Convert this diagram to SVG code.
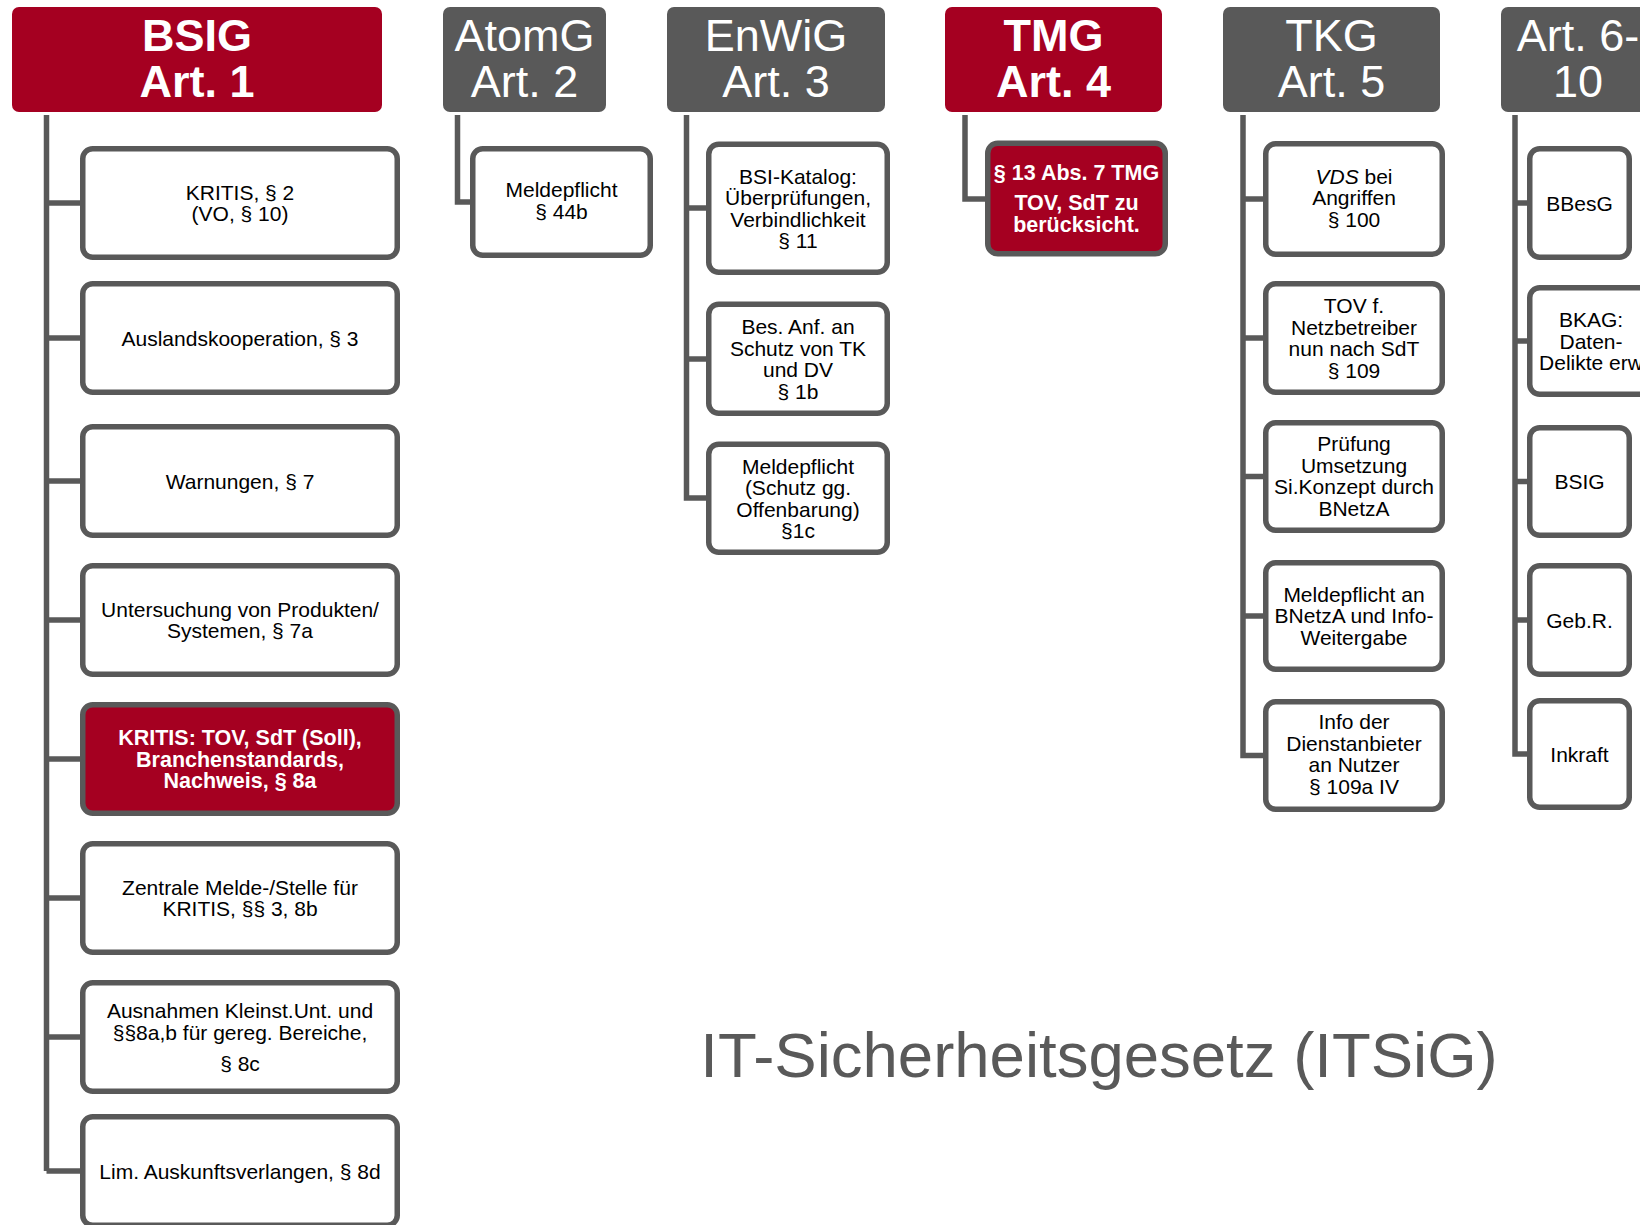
<svg xmlns="http://www.w3.org/2000/svg" width="1640" height="1225" viewBox="0 0 1640 1225">
<style>
.hr{fill:#A50021}
.hg{fill:#595959}
.box{fill:#fff;stroke:#595959;stroke-width:5.5}
.boxr{fill:#A50021;stroke:#595959;stroke-width:5.5}
.h{font-family:"Liberation Sans",Arial,sans-serif;font-size:45px;fill:#fff;text-anchor:middle}
.hb{font-weight:bold}
.t{font-family:"Liberation Sans",Arial,sans-serif;font-size:21px;fill:#000;text-anchor:middle}
.tw{font-family:"Liberation Sans",Arial,sans-serif;font-size:21.5px;font-weight:bold;fill:#fff;text-anchor:middle}
.conn{fill:none;stroke:#595959;stroke-width:5.5;stroke-linejoin:miter}
.title{font-family:"Liberation Sans",Arial,sans-serif;font-size:63.5px;fill:#595959;text-anchor:middle}
</style>
<rect width="1640" height="1225" fill="#fff"/>
<g id="connectors" class="conn">
<path d="M46.5 115V1171M46.5 203H83M46.5 338H83M46.5 481H83M46.5 620H83M46.5 759H83M46.5 898H83M46.5 1037H83M46.5 1171H83"/>
<path d="M457.5 115V202H473"/>
<path d="M686.5 115V498H709M686.5 208H709M686.5 359H709"/>
<path d="M965 115V199H988"/>
<path d="M1243 115V755.5H1266M1243 199H1266M1243 338H1266M1243 476.5H1266M1243 616H1266"/>
<path d="M1515 115V754H1530M1515 203H1530M1515 341H1530M1515 481.5H1530M1515 620H1530"/>
</g>
<g id="h-bsig"><rect class="hr" x="12" y="7" width="370" height="105" rx="7"/><text class="h hb" x="197" y="51">BSIG</text><text class="h hb" x="197" y="97">Art. 1</text></g>
<g id="h-atomg"><rect class="hg" x="443" y="7" width="163" height="105" rx="7"/><text class="h" x="524.5" y="51">AtomG</text><text class="h" x="524.5" y="97">Art. 2</text></g>
<g id="h-enwig"><rect class="hg" x="667" y="7" width="218" height="105" rx="7"/><text class="h" x="776" y="51">EnWiG</text><text class="h" x="776" y="97">Art. 3</text></g>
<g id="h-tmg"><rect class="hr" x="945" y="7" width="217" height="105" rx="7"/><text class="h hb" x="1053.5" y="51">TMG</text><text class="h hb" x="1053.5" y="97">Art. 4</text></g>
<g id="h-tkg"><rect class="hg" x="1223" y="7" width="217" height="105" rx="7"/><text class="h" x="1331.5" y="51">TKG</text><text class="h" x="1331.5" y="97">Art. 5</text></g>
<g id="h-art6"><rect class="hg" x="1501" y="7" width="160" height="105" rx="7"/><text class="h" x="1578" y="51">Art. 6-</text><text class="h" x="1578" y="97">10</text></g>

<g id="b1"><rect class="box" x="82.75" y="148.75" width="314.5" height="108.5" rx="10"/><text class="t" x="240" y="199.75">KRITIS, § 2</text><text class="t" x="240" y="221.25">(VO, § 10)</text></g>
<g id="b2"><rect class="box" x="82.75" y="283.75" width="314.5" height="108.5" rx="10"/><text class="t" x="240" y="345.5">Auslandskooperation, § 3</text></g>
<g id="b3"><rect class="box" x="82.75" y="426.75" width="314.5" height="108.5" rx="10"/><text class="t" x="240" y="488.5">Warnungen, § 7</text></g>
<g id="b4"><rect class="box" x="82.75" y="565.75" width="314.5" height="108.5" rx="10"/><text class="t" x="240" y="616.75">Untersuchung von Produkten/</text><text class="t" x="240" y="638.25">Systemen, § 7a</text></g>
<g id="b5"><rect class="boxr" x="82.75" y="704.75" width="314.5" height="108.5" rx="10"/><text class="tw" x="240" y="745">KRITIS: TOV, SdT (Soll),</text><text class="tw" x="240" y="766.5">Branchenstandards,</text><text class="tw" x="240" y="788">Nachweis, § 8a</text></g>
<g id="b6"><rect class="box" x="82.75" y="843.75" width="314.5" height="108.5" rx="10"/><text class="t" x="240" y="894.75">Zentrale Melde-/Stelle für</text><text class="t" x="240" y="916.25">KRITIS, §§ 3, 8b</text></g>
<g id="b7"><rect class="box" x="82.75" y="982.75" width="314.5" height="108.5" rx="10"/><text class="t" x="240" y="1018">Ausnahmen Kleinst.Unt. und</text><text class="t" x="240" y="1040">§§8a,b für gereg. Bereiche,</text><text class="t" x="240" y="1071">§ 8c</text></g>
<g id="b8"><rect class="box" x="82.75" y="1116.75" width="314.5" height="108.5" rx="10"/><text class="t" x="240" y="1178.5">Lim. Auskunftsverlangen, § 8d</text></g>

<g id="a1"><rect class="box" x="472.75" y="148.75" width="177.5" height="106.5" rx="10"/><text class="t" x="561.5" y="197">Meldepflicht</text><text class="t" x="561.5" y="218.5">§ 44b</text></g>

<g id="e1"><rect class="box" x="708.75" y="144.25" width="178.5" height="128" rx="10"/><text class="t" x="798" y="183.5">BSI-Katalog:</text><text class="t" x="798" y="205">Überprüfungen,</text><text class="t" x="798" y="226.5">Verbindlichkeit</text><text class="t" x="798" y="248">§ 11</text></g>
<g id="e2"><rect class="box" x="708.75" y="304.25" width="178.5" height="109" rx="10"/><text class="t" x="798" y="334.25">Bes. Anf. an</text><text class="t" x="798" y="355.75">Schutz von TK</text><text class="t" x="798" y="377.25">und DV</text><text class="t" x="798" y="398.75">§ 1b</text></g>
<g id="e3"><rect class="box" x="708.75" y="444.25" width="178.5" height="108" rx="10"/><text class="t" x="798" y="473.75">Meldepflicht</text><text class="t" x="798" y="495.25">(Schutz gg.</text><text class="t" x="798" y="516.75">Offenbarung)</text><text class="t" x="798" y="538.25">§1c</text></g>

<g id="m1"><rect class="boxr" x="987.75" y="143.25" width="177.5" height="110.5" rx="10"/><text class="tw" x="1076.5" y="180">§ 13 Abs. 7 TMG</text><text class="tw" x="1076.5" y="210">TOV, SdT zu</text><text class="tw" x="1076.5" y="231.5">berücksicht.</text></g>

<g id="k1"><rect class="box" x="1265.75" y="143.75" width="176.5" height="110.5" rx="10"/><text class="t" x="1354" y="183.5"><tspan font-style="italic">VDS</tspan> bei</text><text class="t" x="1354" y="205">Angriffen</text><text class="t" x="1354" y="226.5">§ 100</text></g>
<g id="k2"><rect class="box" x="1265.75" y="283.75" width="176.5" height="108.5" rx="10"/><text class="t" x="1354" y="313.25">TOV f.</text><text class="t" x="1354" y="334.75">Netzbetreiber</text><text class="t" x="1354" y="356.25">nun nach SdT</text><text class="t" x="1354" y="377.75">§ 109</text></g>
<g id="k3"><rect class="box" x="1265.75" y="422.75" width="176.5" height="107.5" rx="10"/><text class="t" x="1354" y="451.25">Prüfung</text><text class="t" x="1354" y="472.75">Umsetzung</text><text class="t" x="1354" y="494.25">Si.Konzept durch</text><text class="t" x="1354" y="515.75">BNetzA</text></g>
<g id="k4"><rect class="box" x="1265.75" y="562.75" width="176.5" height="106.5" rx="10"/><text class="t" x="1354" y="601.5">Meldepflicht an</text><text class="t" x="1354" y="623">BNetzA und Info-</text><text class="t" x="1354" y="644.5">Weitergabe</text></g>
<g id="k5"><rect class="box" x="1265.75" y="701.75" width="176.5" height="107.5" rx="10"/><text class="t" x="1354" y="729.25">Info der</text><text class="t" x="1354" y="750.75">Dienstanbieter</text><text class="t" x="1354" y="772.25">an Nutzer</text><text class="t" x="1354" y="793.75">§ 109a IV</text></g>

<g id="x1"><rect class="box" x="1529.75" y="148.75" width="99.5" height="108.5" rx="10"/><text class="t" x="1579.5" y="210.5">BBesG</text></g>
<g id="x2"><rect class="box" x="1529.75" y="287.75" width="121.5" height="106.5" rx="10"/><text class="t" x="1591" y="327">BKAG:</text><text class="t" x="1591" y="348.5">Daten-</text><text class="t" x="1591" y="370">Delikte erw</text></g>
<g id="x3"><rect class="box" x="1529.75" y="427.75" width="99.5" height="107.5" rx="10"/><text class="t" x="1579.5" y="489">BSIG</text></g>
<g id="x4"><rect class="box" x="1529.75" y="565.75" width="99.5" height="108.5" rx="10"/><text class="t" x="1579.5" y="627.5">Geb.R.</text></g>
<g id="x5"><rect class="box" x="1529.75" y="700.75" width="99.5" height="106.5" rx="10"/><text class="t" x="1579.5" y="761.5">Inkraft</text></g>

<text class="title" x="1099" y="1077">IT-Sicherheitsgesetz (ITSiG)</text>
</svg>
